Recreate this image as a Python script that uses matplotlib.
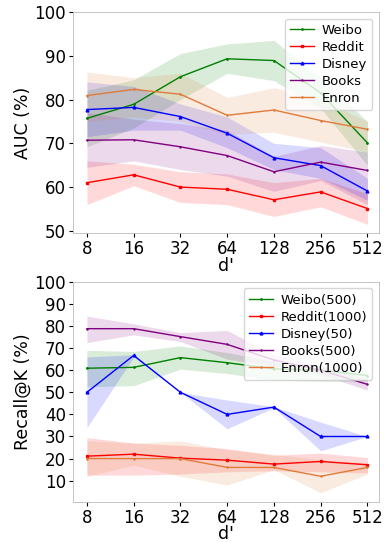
import matplotlib
matplotlib.use("Agg")
import matplotlib.pyplot as plt
import numpy as np

dims = ["8", "16", "32", "64", "128", "256", "512"]

# AUC (%) - top panel
auc_names = ["Weibo", "Reddit", "Disney", "Books", "Enron"]
auc_weibo = [75.7, 78.9, 85.2, 89.3, 88.9, 81.5, 70.1]
auc_weibo_lo = [69.2, 73.5, 80.0, 86.0, 84.3, 78.0, 65.0]
auc_weibo_hi = [82.1, 84.5, 90.5, 92.7, 93.5, 85.0, 75.0]
auc_reddit = [61.0, 62.8, 60.0, 59.5, 57.1, 58.9, 55.1]
auc_reddit_lo = [56.0, 60.3, 56.5, 56.0, 53.3, 55.5, 51.5]
auc_reddit_hi = [66.0, 65.2, 63.5, 63.0, 61.0, 62.0, 58.5]
auc_disney = [77.7, 78.2, 76.1, 72.3, 66.7, 64.9, 59.1]
auc_disney_lo = [71.5, 73.0, 73.0, 69.0, 64.0, 62.0, 57.0]
auc_disney_hi = [84.0, 83.0, 79.0, 76.0, 70.0, 69.0, 62.0]
auc_books = [70.7, 70.8, 69.2, 67.2, 63.5, 65.7, 63.8]
auc_books_lo = [64.5, 66.0, 64.0, 62.5, 59.0, 61.5, 56.0]
auc_books_hi = [77.0, 75.5, 74.5, 73.0, 67.0, 69.5, 68.0]
auc_enron = [80.9, 82.3, 81.2, 76.4, 77.6, 75.2, 73.2]
auc_enron_lo = [75.0, 76.0, 75.0, 72.0, 72.5, 70.3, 68.0]
auc_enron_hi = [86.3, 85.0, 86.0, 80.5, 82.7, 80.0, 75.0]

# Recall@K (%) - bottom panel
rec_names = ["Weibo(500)", "Reddit(1000)", "Disney(50)", "Books(500)", "Enron(1000)"]
rec_weibo = [60.9, 61.3, 65.7, 63.4, 60.6, 60.0, 57.6]
rec_weibo_lo = [52.5, 53.0, 60.5, 58.5, 55.5, 55.0, 55.0]
rec_weibo_hi = [69.0, 68.5, 71.0, 68.0, 64.0, 62.0, 60.0]
rec_reddit = [21.1, 22.0, 20.2, 19.3, 17.5, 18.7, 17.2]
rec_reddit_lo = [12.5, 12.5, 13.0, 14.0, 14.5, 14.0, 13.5]
rec_reddit_hi = [29.5, 27.0, 26.0, 24.5, 21.5, 22.5, 20.5]
rec_disney = [50.0, 66.7, 50.0, 40.0, 43.3, 30.0, 30.0]
rec_disney_lo = [34.0, 66.0, 50.0, 33.5, 43.0, 23.5, 30.0]
rec_disney_hi = [66.0, 67.0, 50.0, 46.5, 43.5, 36.5, 30.0]
rec_books = [78.8, 78.8, 75.2, 71.7, 64.6, 60.0, 53.6]
rec_books_lo = [72.5, 76.0, 73.0, 65.0, 62.0, 58.0, 51.0]
rec_books_hi = [84.5, 81.0, 77.0, 78.0, 67.0, 62.0, 56.0]
rec_enron = [20.0, 20.0, 20.0, 16.0, 16.0, 12.0, 16.0]
rec_enron_lo = [12.0, 17.0, 12.0, 8.0, 15.0, 4.5, 13.0]
rec_enron_hi = [28.0, 27.0, 28.0, 24.0, 22.0, 19.5, 18.0]

colors = ["green", "red", "blue", "purple", "#e07b39"]
markers = [".", "s", "^", "+", "1"]

fig = plt.figure(figsize=(3.92, 5.42), dpi=100)
ax1 = fig.add_axes([0.186, 0.570, 0.781, 0.408])
ax2 = fig.add_axes([0.186, 0.074, 0.781, 0.406])

x = np.arange(len(dims))

auc_series = [(auc_weibo, auc_weibo_lo, auc_weibo_hi), (auc_reddit, auc_reddit_lo, auc_reddit_hi),
              (auc_disney, auc_disney_lo, auc_disney_hi), (auc_books, auc_books_lo, auc_books_hi),
              (auc_enron, auc_enron_lo, auc_enron_hi)]
rec_series = [(rec_weibo, rec_weibo_lo, rec_weibo_hi), (rec_reddit, rec_reddit_lo, rec_reddit_hi),
              (rec_disney, rec_disney_lo, rec_disney_hi), (rec_books, rec_books_lo, rec_books_hi),
              (rec_enron, rec_enron_lo, rec_enron_hi)]

def draw(ax, series, names, ylabel, ylim, yticks):
    for (m, lo, hi), name, c, mk in zip(series, names, colors, markers):
        ax.plot(x, m, color=c, marker=mk, markersize=2, linewidth=1.0, label=name)
        ax.fill_between(x, lo, hi, color=c, alpha=0.15, linewidth=0)
    ax.set_xticks(x)
    ax.set_xticklabels(dims)
    ax.set_xlim(-0.3, 6.25)
    ax.set_ylim(*ylim)
    ax.set_yticks(yticks)
    ax.tick_params(labelsize=12, length=3, width=0.8, pad=2)
    ax.set_xlabel("d'", fontsize=12.5, labelpad=-1)
    ax.set_ylabel(ylabel, fontsize=12.5, labelpad=2)
    for s in ax.spines.values():
        s.set_linewidth(0.6)
        s.set_color("#bbbbbb")
    ax.legend(loc="upper right", fontsize=9.5, handlelength=1.8, borderpad=0.4,
              labelspacing=0.3, handletextpad=0.6, framealpha=0.8)

draw(ax1, auc_series, auc_names, "AUC (%)", (49.5, 100), [50, 60, 70, 80, 90, 100])
draw(ax2, rec_series, rec_names, "Recall@K (%)", (0.4, 100), [10, 20, 30, 40, 50, 60, 70, 80, 90, 100])

fig.savefig("out.png", dpi=100)
